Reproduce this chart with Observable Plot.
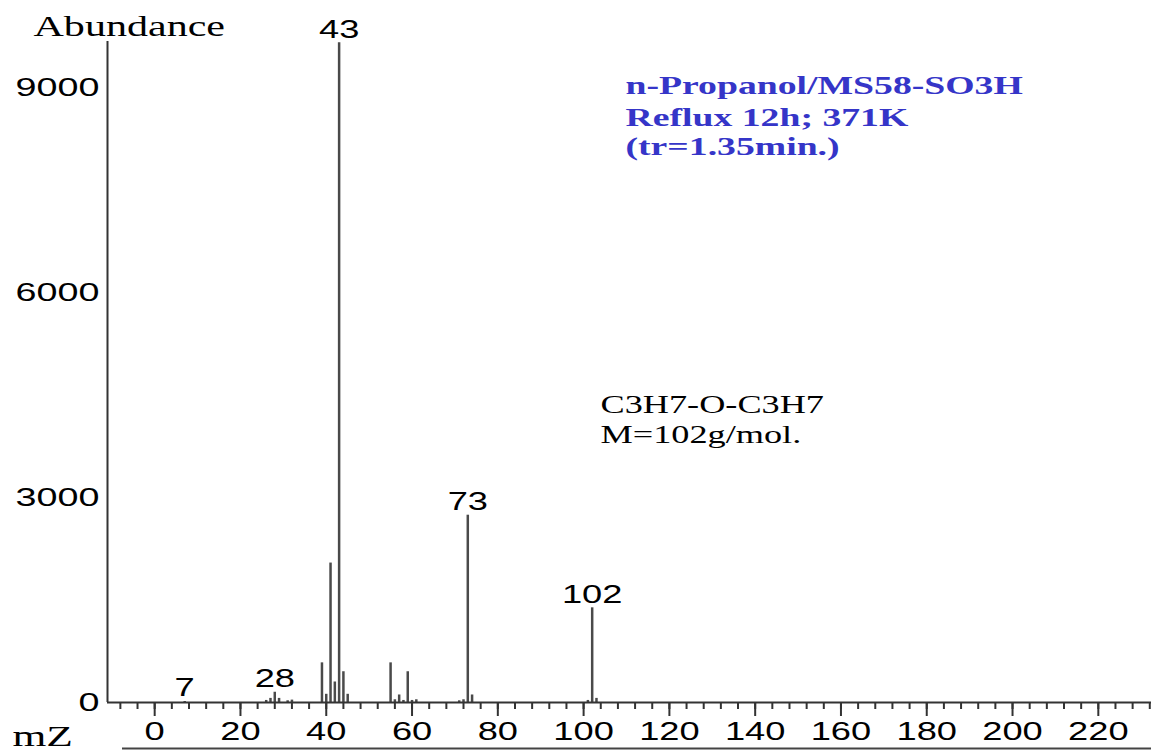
<!DOCTYPE html>
<html>
<head>
<meta charset="utf-8">
<script src="https://cdn.jsdelivr.net/npm/d3@7"></script>
<script src="https://cdn.jsdelivr.net/npm/@observablehq/plot@0.6"></script>
<style>
  html, body { margin: 0; padding: 0; background: #fff; }
  #chart { width: 1151px; height: 751px; overflow: hidden; }
</style>
</head>
<body>
<div id="chart"></div>
<script>
// ---- data ----
const mz        = [7, 26, 27, 28, 29, 31, 32, 39, 40, 41, 42, 43, 44, 45, 55, 56, 57, 58, 59, 60, 61, 71, 72, 73, 74, 101, 102, 103];
const abundance = [15, 30, 60, 150, 60, 25, 35, 580, 120, 2040, 300, 9650, 450, 120, 580, 40, 110, 30, 450, 30, 40, 25, 40, 2740, 110, 30, 1385, 60];
const labeledMz = [7, 28, 43, 73, 102];
const xTickLabels = [0, 20, 40, 60, 80, 100, 120, 140, 160, 180, 200, 220];
const xMinorTicks = [-8, -4, 0, 4, 8, 12, 16, 20, 24, 28, 32, 36, 40, 44, 48, 52, 56, 60, 64, 68, 72, 76, 80, 84, 88, 92, 96, 100, 104, 108, 112, 116, 120, 124, 128, 132, 136, 140, 144, 148, 152, 156, 160, 164, 168, 172, 176, 180, 184, 188, 192, 196, 200, 204, 208, 212, 216, 220, 224, 228, 232];
const yTickLabels = [0, 3000, 6000, 9000];
const xDomain = [-11, 232.4];
const yDomain = [0, 9670];
const conditionLines = ["n-Propanol/MS58-SO3H", "Reflux 12h; 371K", "(tr=1.35min.)"];
const compoundLines = ["C3H7-O-C3H7", "M=102g/mol."];

const peaks = mz.map((m, i) => ({mz: m, ab: abundance[i]}));
const labeled = peaks.filter(d => labeledMz.includes(d.mz));

const SERIF = "'Liberation Serif', 'Times New Roman', serif";
const SANS = "'Liberation Sans', Arial, sans-serif";
const BLUE = "#3535c8";

const chart = Plot.plot({
  width: 1151,
  height: 751,
  marginLeft: 107,
  marginRight: 0,
  marginTop: 41,
  marginBottom: 49,
  style: {fontFamily: SANS, fontSize: "25px", color: "#000", background: "#fff"},
  x: {domain: xDomain, label: null},
  y: {domain: yDomain, label: null},
  marks: [
    // spectrum peaks
    Plot.ruleX(peaks, {x: "mz", y: "ab", stroke: "#4a4a4a", strokeWidth: 2.5}),
    // axis lines
    Plot.ruleY([0], {stroke: "#333", strokeWidth: 2}),
    Plot.ruleX([xDomain[0]], {stroke: "#333", strokeWidth: 2}),
    // underline below x labels
    Plot.ruleY([0], {dy: 46, insetLeft: 15, stroke: "#444", strokeWidth: 2}),
    // x axis
    Plot.axisX(xMinorTicks, {tickSize: 7, tickFormat: () => "", stroke: "#333", strokeWidth: 2, label: null}),
    Plot.axisX(xTickLabels, {tickSize: 14, tickPadding: 6, tickFormat: d => String(d), stroke: "#333", strokeWidth: 2, fontSize: 25, fill: "#000", label: null}),
    // y axis
    Plot.axisY(yTickLabels, {tickSize: 0, tickPadding: 8, tickFormat: d => String(d), fontSize: 26, fill: "#000", label: null}),
    // peak labels
    Plot.text(labeled, {x: "mz", y: "ab", text: d => String(d.mz), dy: -5, lineAnchor: "bottom", textAnchor: "middle", fontSize: 25, fill: "#000"}),
    // axis titles
    Plot.text(["Abundance"], {text: d => d, frameAnchor: "top-left", dx: -74, dy: -6, textAnchor: "start", lineAnchor: "bottom", fontFamily: SERIF, fontSize: 29, fill: "#000"}),
    Plot.text(["mZ"], {text: d => d, frameAnchor: "bottom-left", dx: -95, dy: 43, textAnchor: "start", lineAnchor: "bottom", fontFamily: SERIF, fontSize: 30, fill: "#000"}),
    // experiment annotation (blue)
    Plot.text([conditionLines[0]], {text: d => d, frameAnchor: "top-left", dx: 518, dy: 52, textAnchor: "start", lineAnchor: "bottom", fontFamily: SERIF, fontWeight: "bold", fontSize: 26, fill: BLUE}),
    Plot.text([conditionLines[1]], {text: d => d, frameAnchor: "top-left", dx: 518, dy: 84, textAnchor: "start", lineAnchor: "bottom", fontFamily: SERIF, fontWeight: "bold", fontSize: 26, fill: BLUE}),
    Plot.text([conditionLines[2]], {text: d => d, frameAnchor: "top-left", dx: 518, dy: 113, textAnchor: "start", lineAnchor: "bottom", fontFamily: SERIF, fontWeight: "bold", fontSize: 26, fill: BLUE}),
    // compound annotation (black)
    Plot.text([compoundLines[0]], {text: d => d, frameAnchor: "top-left", dx: 493, dy: 371, textAnchor: "start", lineAnchor: "bottom", fontFamily: SERIF, fontSize: 25, fill: "#000"}),
    Plot.text([compoundLines[1]], {text: d => d, frameAnchor: "top-left", dx: 493, dy: 401, textAnchor: "start", lineAnchor: "bottom", fontFamily: SERIF, fontSize: 25, fill: "#000"})
  ]
});

document.getElementById("chart").appendChild(chart);

// The reference figure is stretched horizontally; widen glyphs to match.
const STRETCH = 1.45;
chart.querySelectorAll("text").forEach(el => {
  const w = el.getComputedTextLength();
  if (w > 0) {
    el.setAttribute("textLength", (w * STRETCH).toFixed(1));
    el.setAttribute("lengthAdjust", "spacingAndGlyphs");
  }
});
</script>
</body>
</html>
